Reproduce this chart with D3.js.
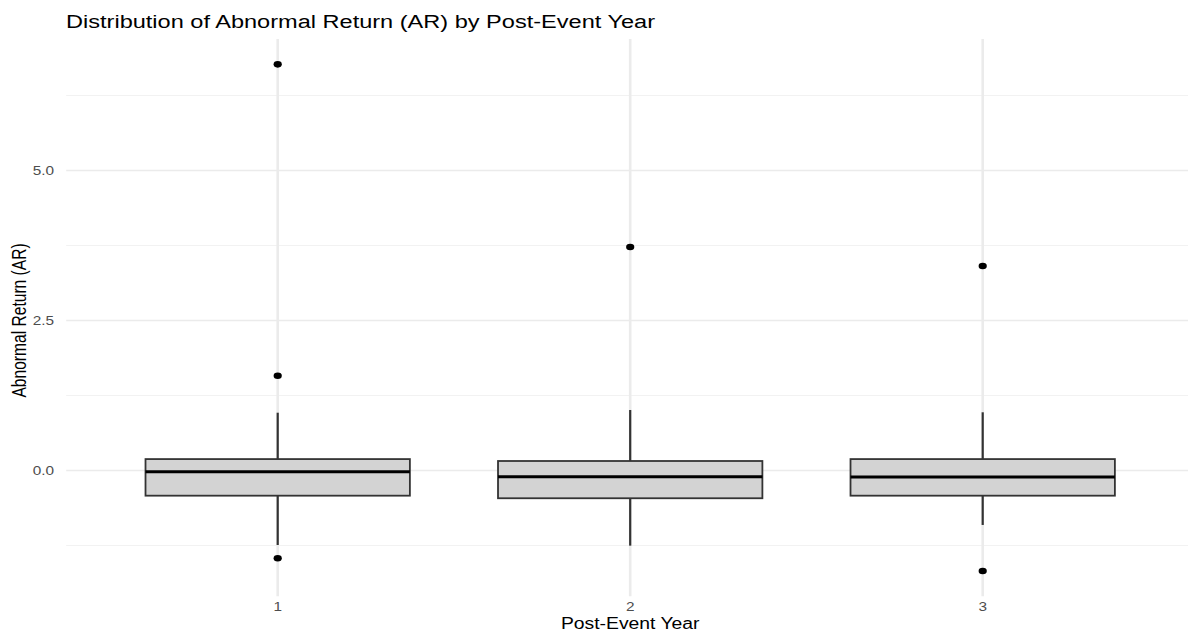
<!DOCTYPE html>
<html>
<head>
<meta charset="utf-8">
<script src="https://cdn.jsdelivr.net/npm/d3@7/dist/d3.min.js"></script>
<style>
  html, body { margin: 0; padding: 0; background: #ffffff; }
  svg { display: block; font-family: "Liberation Sans", Arial, Helvetica, sans-serif; }
</style>
</head>
<body>
<svg id="chart" width="1188" height="633"></svg>
<script>
// Post-event years and box-plot summaries of abnormal return (AR)
const years        = ["1", "2", "3"];
const q1           = [-0.42, -0.463, -0.42];
const medians      = [-0.02, -0.103, -0.108];
const q3           = [0.19, 0.158, 0.19];
const whiskerLow   = [-1.242, -1.253, -0.908];
const whiskerHigh  = [0.963, 1.008, 0.97];
const outliers     = [
  [6.77, 1.58, -1.463],
  [3.725],
  [3.408, -1.675]
];
const yTicks       = [0, 2.5, 5.0];
const yMinorTicks  = [-1.25, 1.25, 3.75, 6.25];

const svg = d3.select("#chart");
const W = 1188, H = 633;
const hs = 1.24; // horizontal stretch applied to text glyphs and point marks

const panel = { left: 66.2, right: 1194.2 };

// y domain: data range expanded by 5% on both sides
const allVals = outliers.flat().concat(whiskerLow, whiskerHigh);
const lo = d3.min(allVals), hi = d3.max(allVals);
const pad = (hi - lo) * 0.05;
const y = d3.scaleLinear().domain([lo - pad, hi + pad]).range([596.3, 39.0]);

const x = d3.scalePoint().domain(years).range([panel.left, panel.right]).padding(0.6);
const boxW = x.step() * 0.75;

svg.append("defs").append("clipPath").attr("id", "clip")
  .append("rect").attr("x", 0).attr("y", 0).attr("width", W).attr("height", H);

const plot = svg.append("g").attr("clip-path", "url(#clip)");

// minor horizontal gridlines
plot.selectAll("line.minor").data(yMinorTicks).join("line")
  .attr("x1", panel.left).attr("x2", panel.right)
  .attr("y1", d => y(d)).attr("y2", d => y(d))
  .attr("stroke", "#f2f2f2").attr("stroke-width", 1.1);

// major horizontal gridlines
plot.selectAll("line.major").data(yTicks).join("line")
  .attr("x1", panel.left).attr("x2", panel.right)
  .attr("y1", d => y(d)).attr("y2", d => y(d))
  .attr("stroke", "#ebebeb").attr("stroke-width", 1.6);

// vertical gridlines at each year
plot.selectAll("line.vgrid").data(years).join("line")
  .attr("x1", d => x(d)).attr("x2", d => x(d))
  .attr("y1", y.range()[1]).attr("y2", y.range()[0])
  .attr("stroke", "#ebebeb").attr("stroke-width", 2.6);

const boxes = years.map((yr, i) => ({
  yr, q1: q1[i], med: medians[i], q3: q3[i], lo: whiskerLow[i], hi: whiskerHigh[i], out: outliers[i]
}));

const g = plot.selectAll("g.box").data(boxes).join("g");

// whiskers
g.append("line")
  .attr("x1", d => x(d.yr)).attr("x2", d => x(d.yr))
  .attr("y1", d => y(d.hi)).attr("y2", d => y(d.q3))
  .attr("stroke", "#333333").attr("stroke-width", 2.2);
g.append("line")
  .attr("x1", d => x(d.yr)).attr("x2", d => x(d.yr))
  .attr("y1", d => y(d.q1)).attr("y2", d => y(d.lo))
  .attr("stroke", "#333333").attr("stroke-width", 2.2);

// box
g.append("rect")
  .attr("x", d => x(d.yr) - boxW / 2)
  .attr("width", boxW)
  .attr("y", d => y(d.q3))
  .attr("height", d => y(d.q1) - y(d.q3))
  .attr("fill", "#d3d3d3")
  .attr("stroke", "#333333").attr("stroke-width", 1.8);

// median
g.append("line")
  .attr("x1", d => x(d.yr) - boxW / 2).attr("x2", d => x(d.yr) + boxW / 2)
  .attr("y1", d => y(d.med)).attr("y2", d => y(d.med))
  .attr("stroke", "#000000").attr("stroke-width", 3);

// outliers
g.selectAll("ellipse").data(d => d.out.map(v => ({ yr: d.yr, v }))).join("ellipse")
  .attr("cx", d => x(d.yr)).attr("cy", d => y(d.v))
  .attr("rx", 3.3 * hs).attr("ry", 3.3)
  .attr("fill", "#000000");

// horizontally stretched text helper
function stretchedText(sel, txt, px, py, size, anchor, color) {
  return sel.append("text")
    .attr("transform", `translate(${px},${py}) scale(${hs},1)`)
    .attr("text-anchor", anchor)
    .attr("font-size", size)
    .attr("fill", color)
    .text(txt);
}

// y tick labels
yTicks.forEach(v => {
  stretchedText(svg, d3.format(".1f")(v), 54, y(v) + 4.3, 12.4, "end", "#4d4d4d");
});

// x tick labels
years.forEach(v => {
  stretchedText(svg, v, x(v), 611, 12.4, "middle", "#4d4d4d");
});

// axis titles
stretchedText(svg, "Post-Event Year", x("2"), 628.5, 15.6, "middle", "#000000");

svg.append("text")
  .attr("transform", `translate(25.5,${y(2.5)}) scale(${hs},1) rotate(-90)`)
  .attr("text-anchor", "middle")
  .attr("font-size", 15.6)
  .attr("fill", "#000000")
  .text("Abnormal Return (AR)");

// title
stretchedText(svg, "Distribution of Abnormal Return (AR) by Post-Event Year", 66, 28, 19, "start", "#000000");
</script>
</body>
</html>
